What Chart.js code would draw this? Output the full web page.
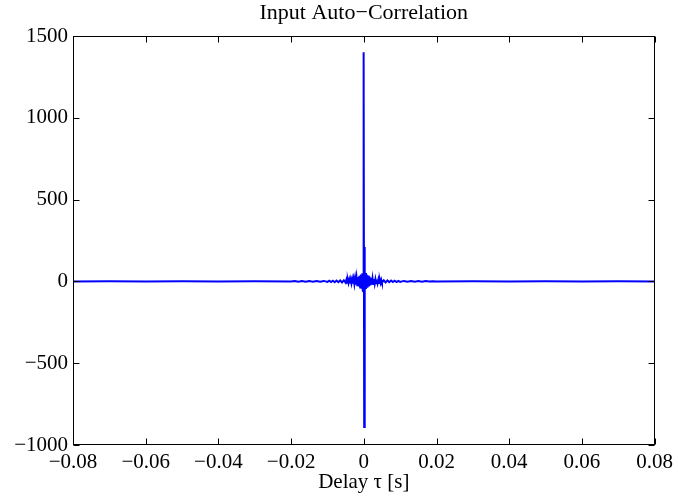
<!DOCTYPE html>
<html>
<head>
<meta charset="utf-8">
<script src="https://cdn.jsdelivr.net/npm/chart.js@4/dist/chart.umd.min.js"></script>
<style>
    html, body { margin: 0; padding: 0; background: #ffffff; }
    #wrap { width: 678px; height: 497px; }
</style>
</head>
<body>
<div id="wrap"><canvas id="myChart" width="678" height="497"></canvas></div>
<script>
// delay values (s) and auto-correlation values
const lags = [
    -0.08, -0.07, -0.06, -0.05, -0.04, -0.03, -0.02,
    -0.019, -0.018, -0.017, -0.016, -0.015, -0.014, -0.013, -0.012, -0.011, -0.01,
    -0.0095, -0.009, -0.0085, -0.008, -0.0075, -0.007, -0.0065, -0.006, -0.0055,
    -0.005, -0.0048, -0.0046, -0.0044, -0.0042, -0.004, -0.0038, -0.0036, -0.0034,
    -0.0032, -0.003, -0.0028, -0.0026, -0.0024, -0.0022, -0.002, -0.0018, -0.0016,
    -0.0014, -0.0012, -0.001, -0.0008, -0.0006, -0.0004, -0.0003,
    -0.0002, -0.0001, 0, 0.0001, 0.0002,
    0.0003, 0.0004, 0.0006, 0.0008, 0.001, 0.0012, 0.0014, 0.0016, 0.0018, 0.002,
    0.0022, 0.0024, 0.0026, 0.0028, 0.003, 0.0032, 0.0034, 0.0036, 0.0038, 0.004,
    0.0042, 0.0044, 0.0046, 0.0048, 0.005,
    0.0055, 0.006, 0.0065, 0.007, 0.0075, 0.008, 0.0085, 0.009, 0.0095,
    0.01, 0.011, 0.012, 0.013, 0.014, 0.015, 0.016, 0.017, 0.018, 0.019,
    0.02, 0.03, 0.04, 0.05, 0.06, 0.07, 0.08
];
const corr = [
    0, 1, -1, 1, -1, 1, -1,
    2, -2, 2, -2, 2, -2, 3, -2, 3, -3,
    4, -4, 4, -5, 5, -5, 6, -6, 7,
    -8, 9, -9, 10, -10, 11, -11, 12, -12,
    13, -14, 15, -16, 18, -20, 22, -24, 27,
    -30, 34, -38, 42, -45, 50, -55,
    -60, 215, 1400, -890, 210,
    -65, 52, -46, 42, -38, 35, -31, 28, -25, 22,
    -20, 18, -16, 15, -14, 13, -12, 12, -11, 11,
    -10, 10, -9, 9, -8,
    7, -6, 6, -5, 5, -4, 4, -4, 3,
    -3, 3, -2, 2, -2, 2, -2, 2, -1, 1,
    -1, 1, -1, 1, -1, 1, 0
];
const xTickValues = [-0.08, -0.06, -0.04, -0.02, 0, 0.02, 0.04, 0.06, 0.08];
const yTickValues = [-1000, -500, 0, 500, 1000, 1500];
const chartTitle = 'Input Auto\u2212Correlation';

const serif = 'Liberation Serif';
Chart.defaults.color = '#000000';

function fmt(v, digits) {
    const s = String(Number(v.toFixed(digits)));
    return s.replace('-', '\u2212');
}

// matlab style box with inward ticks on all four sides, title centred on the axes
const boxTicks = {
    id: 'boxTicks',
    afterDraw(chart) {
        const ctx = chart.ctx;
        const a = chart.chartArea;
        const xs = chart.scales.x;
        const ys = chart.scales.y;
        const len = 6;
        const l = Math.round(a.left) + 0.5;
        const r = Math.round(a.right) - 0.5;
        const t = Math.round(a.top) + 0.5;
        const b = Math.round(a.bottom) - 0.5;
        ctx.save();
        ctx.strokeStyle = '#000000';
        ctx.lineWidth = 1;
        ctx.strokeRect(l, t, r - l, b - t);
        ctx.beginPath();
        xTickValues.forEach(function (v) {
            const px = Math.round(xs.getPixelForValue(v)) + 0.5;
            ctx.moveTo(px, b); ctx.lineTo(px, b - len);
            ctx.moveTo(px, t); ctx.lineTo(px, t + len);
        });
        yTickValues.forEach(function (v) {
            const py = Math.round(ys.getPixelForValue(v)) + 0.5;
            ctx.moveTo(l, py); ctx.lineTo(l + len, py);
            ctx.moveTo(r, py); ctx.lineTo(r - len, py);
        });
        ctx.stroke();

        ctx.fillStyle = '#000000';
        ctx.font = '22px "' + serif + '"';
        ctx.textAlign = 'center';
        ctx.textBaseline = 'middle';
        ctx.fillText(chartTitle, (a.left + a.right) / 2, 13);
        ctx.restore();
    }
};

const ctx = document.getElementById('myChart').getContext('2d');
const myChart = new Chart(ctx, {
    type: 'line',
    data: {
        datasets: [{
            data: lags.map(function (x, i) { return { x: x, y: corr[i] }; }),
            borderColor: '#0000ff',
            borderWidth: 2,
            pointRadius: 0,
            tension: 0,
            fill: false
        }]
    },
    options: {
        responsive: false,
        animation: false,
        events: [],
        layout: {
            padding: { left: 0, right: 21, top: 36, bottom: 0 }
        },
        scales: {
            x: {
                type: 'linear',
                min: -0.08,
                max: 0.08,
                afterBuildTicks: function (scale) {
                    scale.ticks = xTickValues.map(function (v) { return { value: v }; });
                },
                afterFit: function (scale) { scale.height = 52; },
                grid: { display: false, drawTicks: false },
                border: { display: false },
                ticks: {
                    padding: 5,
                    maxRotation: 0,
                    autoSkip: false,
                    color: '#000000',
                    font: { family: serif, size: 21 },
                    callback: function (val) { return fmt(val, 2); }
                },
                title: {
                    display: true,
                    text: 'Delay \u03c4 [s]',
                    color: '#000000',
                    padding: { top: 0, bottom: 2 },
                    font: { family: serif, size: 21 }
                }
            },
            y: {
                min: -1000,
                max: 1500,
                afterBuildTicks: function (scale) {
                    scale.ticks = yTickValues.map(function (v) { return { value: v }; });
                },
                afterFit: function (scale) { scale.width = 73; },
                grid: { display: false, drawTicks: false },
                border: { display: false },
                ticks: {
                    padding: 5,
                    autoSkip: false,
                    color: '#000000',
                    font: { family: serif, size: 21 },
                    callback: function (val) { return fmt(val, 0); }
                }
            }
        },
        plugins: {
            legend: { display: false },
            tooltip: { enabled: false },
            title: { display: false }
        }
    },
    plugins: [boxTicks]
});
</script>
</body>
</html>
